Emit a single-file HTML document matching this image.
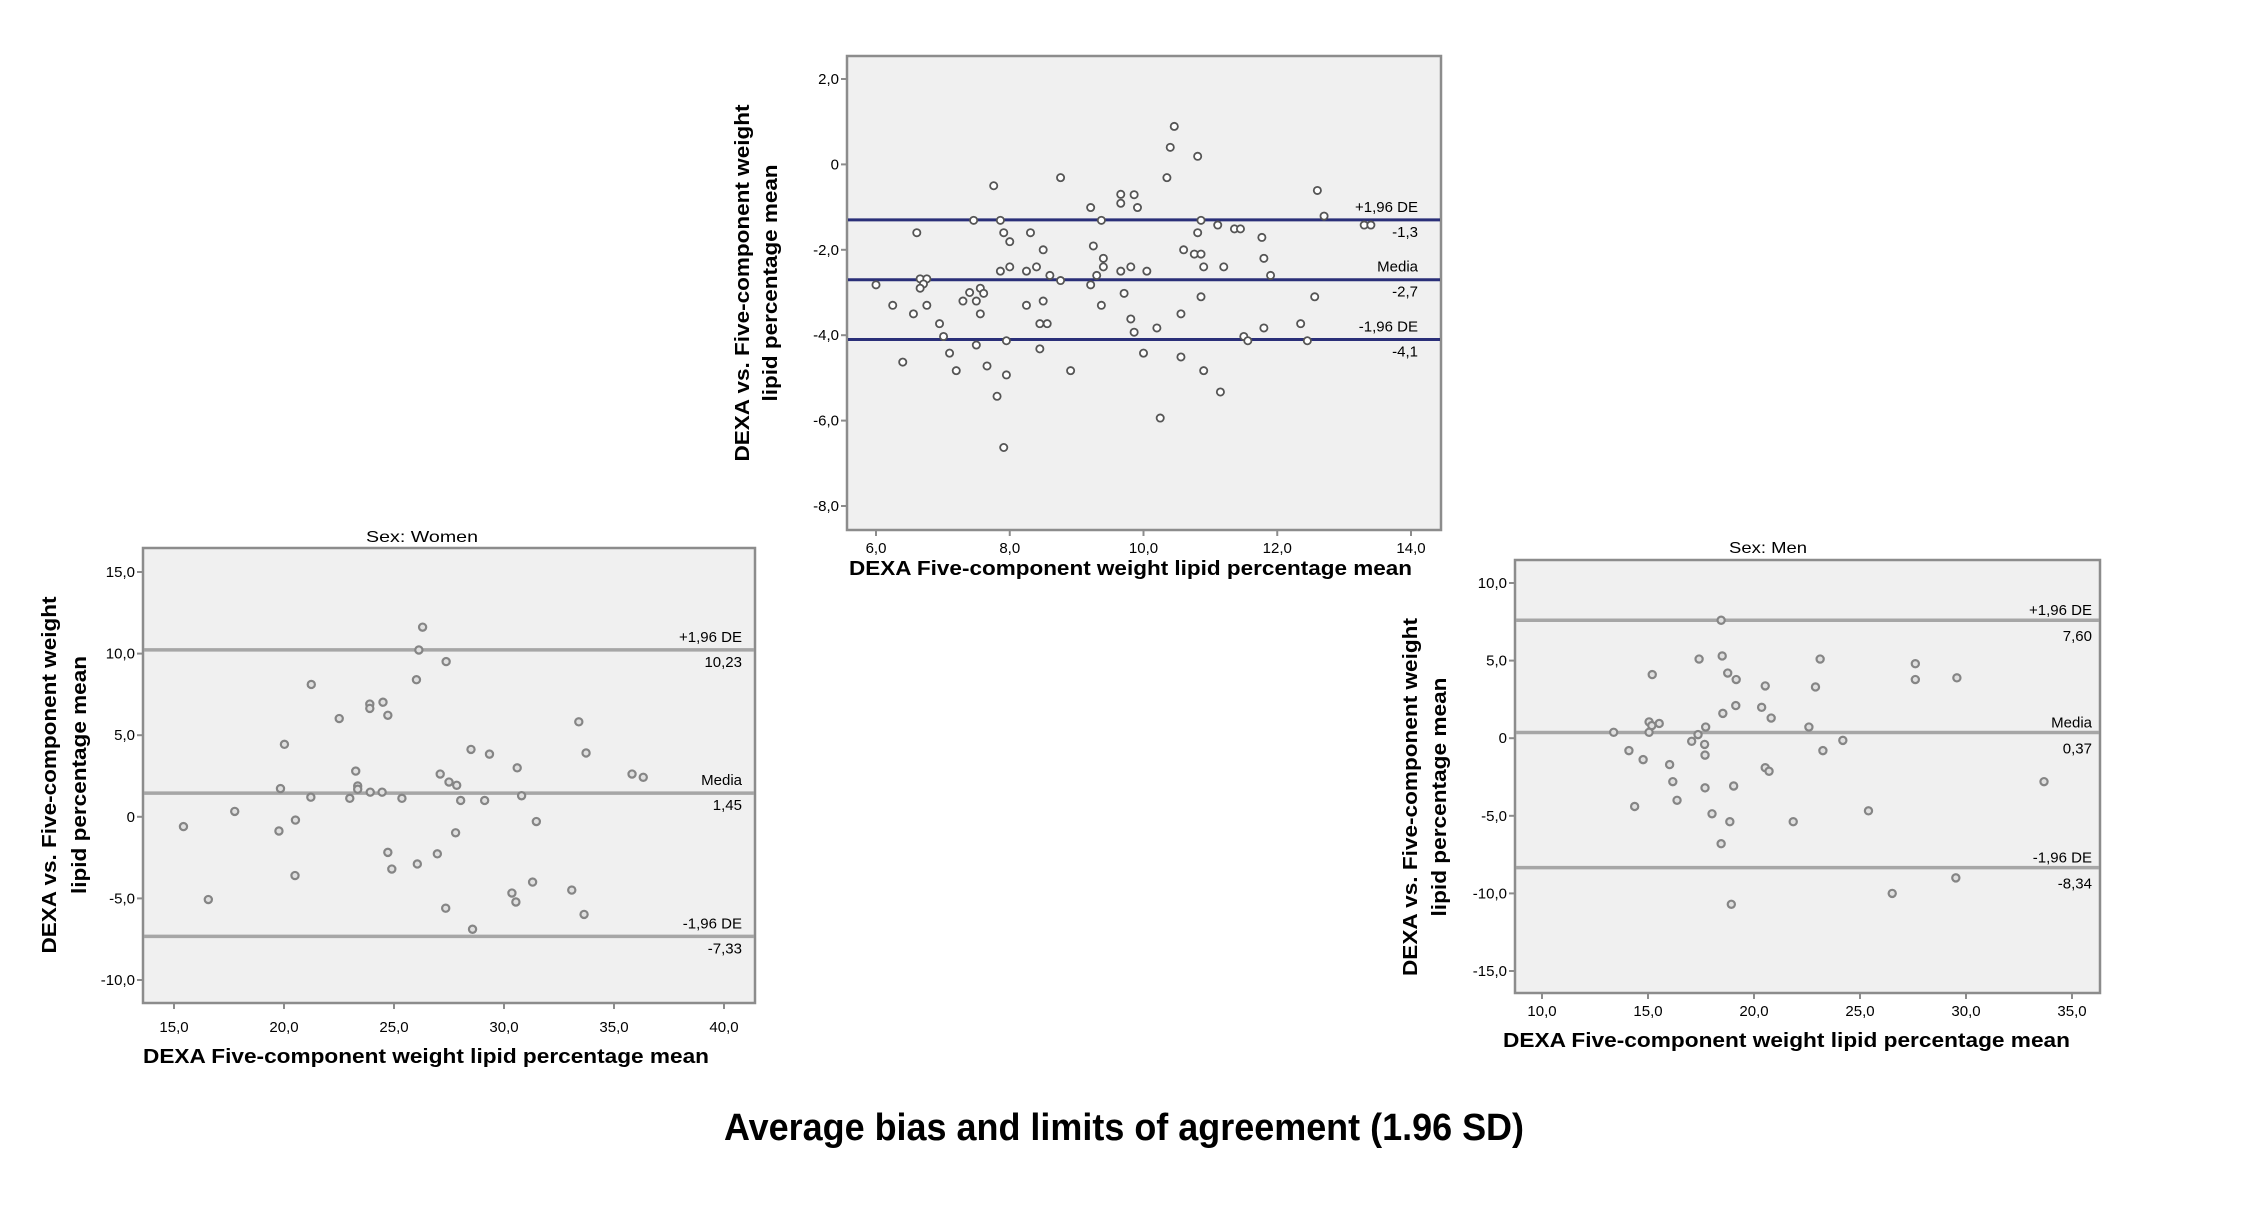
<!DOCTYPE html>
<html><head><meta charset="utf-8"><style>
html,body{margin:0;padding:0;background:#fff;}
svg{display:block;font-family:"Liberation Sans",Arial,sans-serif;}
</style></head><body>
<svg id="c" width="2243" height="1209" viewBox="0 0 2243 1209" xmlns="http://www.w3.org/2000/svg">
<text x="1124" y="1140" text-anchor="middle" font-size="38" font-weight="bold" textLength="800" lengthAdjust="spacingAndGlyphs">Average bias and limits of agreement (1.96 SD)</text>
</svg>
<script>
const allX = [10.46,10.40,10.81,8.76,10.35,7.76,12.6,9.66,9.86,9.66,9.91,9.21,12.7,7.46,7.86,9.37,10.86,11.11,11.36,11.45,13.3,13.4,6.61,7.91,8.31,10.81,8.0,11.77,9.25,8.5,10.6,10.76,10.86,11.8,9.4,8.0,8.4,9.4,9.81,10.9,11.2,7.86,8.25,9.66,10.05,8.6,9.3,11.9,8.76,6.66,6.76,6.0,6.71,9.21,6.66,7.56,7.4,7.61,9.71,10.86,12.56,6.25,6.76,7.3,7.5,8.5,8.25,9.37,6.56,7.56,10.56,9.81,6.95,8.45,8.56,12.35,10.2,11.8,9.86,7.01,11.5,7.95,11.56,12.45,7.5,8.45,7.1,10.0,10.56,6.4,7.2,8.91,10.9,7.66,7.95,11.15,7.81,10.25,7.91];
const allY = [0.89,0.40,0.19,-0.31,-0.31,-0.5,-0.61,-0.7,-0.71,-0.91,-1.01,-1.01,-1.21,-1.31,-1.31,-1.31,-1.31,-1.42,-1.51,-1.51,-1.42,-1.42,-1.6,-1.6,-1.6,-1.6,-1.81,-1.71,-1.91,-2.0,-2.0,-2.1,-2.1,-2.2,-2.2,-2.4,-2.4,-2.4,-2.4,-2.4,-2.4,-2.5,-2.5,-2.5,-2.5,-2.6,-2.6,-2.6,-2.72,-2.68,-2.68,-2.82,-2.8,-2.82,-2.9,-2.9,-3.0,-3.02,-3.02,-3.1,-3.1,-3.3,-3.3,-3.2,-3.2,-3.2,-3.3,-3.3,-3.5,-3.5,-3.5,-3.62,-3.73,-3.73,-3.73,-3.73,-3.83,-3.83,-3.93,-4.03,-4.03,-4.13,-4.13,-4.13,-4.23,-4.32,-4.42,-4.42,-4.51,-4.63,-4.83,-4.83,-4.83,-4.72,-4.93,-5.33,-5.43,-5.94,-6.63];
const allLines = [-1.3,-2.7,-4.1];
const allLineVals = ["-1,3","-2,7","-4,1"];
const allXTicks = [6,8,10,12,14];
const allYTicks = [2,0,-2,-4,-6,-8];

const womenX = [26.3,26.13,27.37,26.02,21.24,24.5,23.9,23.9,24.72,22.51,33.4,20.02,28.5,29.34,33.73,30.6,23.26,27.1,35.82,36.33,23.35,27.5,27.85,19.84,23.92,24.46,23.35,30.8,21.22,22.99,25.36,28.03,29.12,17.76,20.52,31.47,15.43,19.77,27.8,24.72,26.97,26.06,24.9,20.5,31.3,33.08,30.36,30.54,16.56,27.35,33.64,28.57];
const womenY = [11.62,10.22,9.51,8.4,8.11,7.02,6.91,6.64,6.22,6.02,5.82,4.44,4.13,3.84,3.91,3.0,2.8,2.62,2.62,2.42,1.89,2.13,1.93,1.73,1.51,1.51,1.69,1.29,1.2,1.13,1.13,1.0,1.0,0.33,-0.2,-0.29,-0.6,-0.87,-0.98,-2.18,-2.27,-2.89,-3.2,-3.6,-4.0,-4.49,-4.67,-5.22,-5.07,-5.6,-5.98,-6.89];
const womenLines = [10.23,1.45,-7.33];
const womenLineVals = ["10,23","1,45","-7,33"];
const womenXTicks = [15,20,25,30,35,40];
const womenYTicks = [15,10,5,0,-5,-10];

const menX = [18.45,18.5,17.41,23.12,27.61,15.2,18.76,19.16,27.61,29.57,20.53,22.9,19.14,20.36,18.53,20.81,15.05,15.53,15.18,22.59,17.72,13.38,15.05,17.36,17.06,24.19,17.67,23.25,14.1,17.69,14.77,16.02,20.53,20.71,16.17,33.68,17.69,19.04,16.37,14.37,25.4,18.02,18.86,21.85,18.45,29.52,26.52,18.93];
const menY = [7.6,5.3,5.1,5.1,4.8,4.1,4.2,3.78,3.78,3.89,3.37,3.3,2.1,1.99,1.6,1.3,1.05,0.95,0.81,0.72,0.72,0.38,0.38,0.23,-0.2,-0.14,-0.4,-0.8,-0.8,-1.09,-1.38,-1.7,-1.9,-2.13,-2.8,-2.8,-3.2,-3.08,-4.0,-4.4,-4.68,-4.87,-5.38,-5.38,-6.8,-9.0,-10.0,-10.7];
const menLines = [7.6,0.37,-8.34];
const menLineVals = ["7,60","0,37","-8,34"];
const menXTicks = [10,15,20,25,30,35];
const menYTicks = [10,5,0,-5,-10,-15];

const lineNames = ["+1,96 DE","Media","-1,96 DE"];
const NS = "http://www.w3.org/2000/svg";
const svg = document.getElementById('c');
function mk(tag, attrs, parent, txt){
  const e = document.createElementNS(NS, tag);
  for (const k in attrs) e.setAttribute(k, attrs[k]);
  if (txt !== undefined) e.textContent = txt;
  (parent||svg).appendChild(e);
  return e;
}
function fmt(v){ return v===0 ? "0" : v.toFixed(1).replace('.',','); }

function panel(cfg){
  const g = mk('g', {});
  
  
  const sx = v => cfg.x0 + (v - cfg.xv0) * (cfg.x1 - cfg.x0) / (cfg.xv1 - cfg.xv0);
  const sy = v => cfg.y0 + (v - cfg.yv0) * (cfg.y1 - cfg.y0) / (cfg.yv1 - cfg.yv0);
  const f = cfg.frame;
  const bg = mk('rect', {x:f[0], y:f[1], width:f[2]-f[0], height:f[3]-f[1], fill:'#f0f0f0', stroke:'#8c8c8c', 'stroke-width':2.5}, g);
  
  
  if (cfg.title){
    const t = mk('text', {x:cfg.title[1], y:cfg.title[2], 'text-anchor':'middle', 'font-size':16, textLength:cfg.title[3], lengthAdjust:'spacingAndGlyphs'}, g, cfg.title[0]);
    
    
  }
  cfg.yt.forEach(v => {
    const y = sy(v);
    mk('line', {x1:f[0]-6, x2:f[0], y1:y, y2:y, stroke:'#8c8c8c', 'stroke-width':2}, g);
    const t = mk('text', {x:f[0]-8, y:y+5, 'text-anchor':'end', 'font-size':15}, g, fmt(v));
    
    
  });
  cfg.xt.forEach(v => {
    const x = sx(v);
    mk('line', {x1:x, x2:x, y1:f[3], y2:f[3]+6, stroke:'#8c8c8c', 'stroke-width':2}, g);
    const t = mk('text', {x:x, y:cfg.xtb, 'text-anchor':'middle', 'font-size':15}, g, fmt(v));
    
    
  });
  cfg.lines.forEach((v, i) => {
    const y = sy(v);
    const l = mk('line', {x1:f[0]+1, x2:f[2]-1, y1:y, y2:y, stroke:cfg.lineColor, 'stroke-width':cfg.lineW}, g);
    
    
    const a = mk('text', {x:cfg.lblX, y:y-cfg.above, 'text-anchor':'end', 'font-size':15}, g, lineNames[i]);
    
    
    const b = mk('text', {x:cfg.lblX, y:y+cfg.below, 'text-anchor':'end', 'font-size':15}, g, cfg.lineVals[i]);
    
    
  });
  cfg.xs.forEach((xv, i) => {
    const c = mk('circle', {cx:sx(xv), cy:sy(cfg.ys[i]), r:3.6, fill:cfg.ptFill, stroke:cfg.ptStroke, 'stroke-width':cfg.ptW}, g);
    
    
  });
  const xt = mk('text', {x:cfg.xTitle[0], y:cfg.xTitle[1], 'font-size':20, 'font-weight':'bold', textLength:cfg.xTitle[2], lengthAdjust:'spacingAndGlyphs'}, g, 'DEXA Five-component weight lipid percentage mean');
  
  
  const yc = cfg.yTitle;
  const y1 = mk('text', {x:0, y:0, 'font-size':20, 'font-weight':'bold', 'text-anchor':'middle', transform:`translate(${yc[0]},${yc[2]}) rotate(-90)`, textLength:yc[3], lengthAdjust:'spacingAndGlyphs'}, g, 'DEXA vs. Five-component weight');
  
  
  const y2 = mk('text', {x:0, y:0, 'font-size':20, 'font-weight':'bold', 'text-anchor':'middle', transform:`translate(${yc[1]},${yc[2]}) rotate(-90)`, textLength:yc[4], lengthAdjust:'spacingAndGlyphs'}, g, 'lipid percentage mean');
  
  
}

panel({name:'all', frame:[847,56,1441,530], xv0:6, xv1:14, x0:876, x1:1411, yv0:2, yv1:-8, y0:79, y1:506,
  xt:allXTicks, yt:allYTicks, xs:allX, ys:allY, lines:allLines, lineVals:allLineVals,
  lineColor:'#2a2f78', lineW:3, lblX:1418, above:8, below:17, xtb:553,
  ptFill:'#ffffff', ptStroke:'#555555', ptW:1.8,
  xTitle:[849,575,563], yTitle:[749,777,283,357,237]});

panel({name:'women', frame:[143,548,755,1003], xv0:15, xv1:40, x0:174, x1:724, yv0:15, yv1:-10, y0:572, y1:980,
  xt:womenXTicks, yt:womenYTicks, xs:womenX, ys:womenY, lines:womenLines, lineVals:womenLineVals,
  lineColor:'#a6a6a6', lineW:3.5, lblX:742, above:8, below:17, xtb:1032,
  ptFill:'#e0e0e0', ptStroke:'#858585', ptW:2.2, title:['Sex: Women',422,542,112],
  xTitle:[143,1063,566], yTitle:[56,86,775,357,238]});

panel({name:'men', frame:[1515,560,2100,993], xv0:10, xv1:35, x0:1542, x1:2072, yv0:10, yv1:-15, y0:583, y1:971,
  xt:menXTicks, yt:menYTicks, xs:menX, ys:menY, lines:menLines, lineVals:menLineVals,
  lineColor:'#a6a6a6', lineW:3.5, lblX:2092, above:5, below:21, xtb:1016,
  ptFill:'#e0e0e0', ptStroke:'#858585', ptW:2.2, title:['Sex: Men',1768,553,78],
  xTitle:[1503,1047,567], yTitle:[1417,1446,797,358,239]});
</script>
</body></html>
